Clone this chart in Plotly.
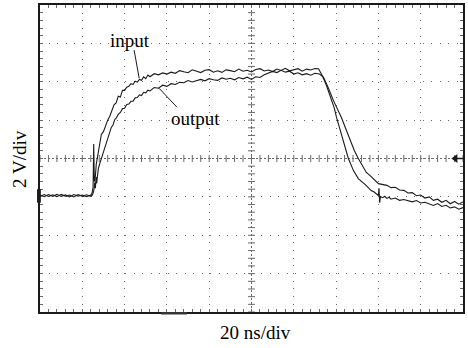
import numpy as np
import plotly.graph_objects as go

# ---------------- data (time in ns, voltage in V) ----------------
input_t = [0, 2, 4, 6, 8, 10, 12, 14, 16, 18, 20, 22, 24,
           24.6, 25.1, 25.4, 25.7, 26.2, 26.6, 27.1, 27.6, 28.0, 29.0, 30.0, 31.0, 32.0, 33.0,
           34.0, 35.0, 36.0, 37.0, 38.0, 39.0, 40.0, 41.0, 42.0, 43.0, 44.0, 45.0, 46.0, 47.0,
           48.0, 49.0, 50.0, 51.0, 52.0, 54.0, 56.0, 58.0, 60.0,
           62, 64, 66, 68, 70, 72, 74, 76, 78, 80, 82, 84, 86, 88, 90, 92, 94, 96, 98, 100,
           102, 104, 106, 108, 110, 112, 114, 116, 118, 120, 122, 124, 126, 128, 130, 131.7,
           133.6, 135.4, 137.3, 139.2, 140.2, 142.0, 143.9, 145.8, 148.2, 150.5, 153.8, 156.6,
           158, 159, 160, 160.3, 160.6, 161, 162, 163, 164, 165, 166, 168, 170, 172, 174, 176,
           178, 180, 182, 184, 186, 188, 190, 192, 194, 196, 198, 200]
input_v = [-1.90, -1.99, -1.88, -1.97, -1.87, -1.98, -1.90, -2.00, -1.88, -1.96, -1.90, -1.99, -1.90,
           -1.80, -1.50, 0.75, -1.20, -0.90, -0.30, 0.00, 0.30, 0.68, 1.25, 1.40, 1.75, 2.00, 2.20,
           2.50, 2.80, 2.90, 3.25, 3.20, 3.55, 3.55, 3.72, 3.76, 3.90, 3.86, 4.03, 3.98, 4.12,
           4.08, 4.26, 4.16, 4.35, 4.26, 4.42, 4.36, 4.46, 4.40,
           4.50, 4.44, 4.58, 4.52, 4.47, 4.62, 4.55, 4.48, 4.60, 4.63, 4.50, 4.57, 4.49, 4.62,
           4.58, 4.52, 4.66, 4.55, 4.60, 4.51, 4.64, 4.68, 4.56, 4.61, 4.53, 4.66, 4.59, 4.70,
           4.57, 4.63, 4.68, 4.55, 4.66, 4.61, 4.69, 4.68,
           4.29, 3.82, 3.19, 2.61, 2.14, 1.46, 0.68, 0.00, -0.63, -1.05, -1.36, -1.67,
           -1.75, -1.85, -1.93, -1.55, -2.30, -1.98, -2.04, -1.97, -2.08, -2.02, -2.12, -2.06,
           -2.18, -2.14, -2.20, -2.26, -2.19, -2.32, -2.28, -2.36, -2.45, -2.35, -2.50, -2.44,
           -2.58, -2.52, -2.64, -2.56]

output_t = [0, 2, 4, 6, 8, 10, 12, 14, 16, 18, 20, 22, 24,
            24.8, 25.4, 25.9, 26.2, 26.5, 26.8, 27.2, 27.6, 28.3, 29.0, 29.7, 30.4, 31.1, 31.8,
            32.7, 33.7, 34.5, 35.3, 36.0, 37.0, 38.0, 39.0, 40.0, 41.0, 42.0, 43.0, 44.0, 45.0,
            46.0, 47.0, 48.0, 49.0, 50.0, 51.0, 52.0, 54.0, 56.0, 58.0, 60.0, 62.0, 64.0, 66.0,
            68.0, 70.0, 72.0, 74.0, 76.0, 78.0, 80.0, 82.0, 84.0, 86.0, 88.0, 90.0, 92.0, 94.0,
            96.0, 98.0, 100.0, 102.0, 104.0, 106.0, 108.0, 110.0, 112.0, 114.0, 116.0, 118.0,
            120.0, 122.0, 124.0, 126.0, 128.0, 130.0, 132.1,
            134.0, 136.4, 138.7, 142.5, 144.9, 146.7, 148.6, 150.5, 152.4, 154.3, 156.6, 160.0,
            164, 166, 168, 170, 172, 174, 176, 178, 180, 182, 184, 186, 188, 190, 192, 194, 196,
            198, 200]
output_v = [-1.97, -1.88, -1.98, -1.89, -1.99, -1.87, -1.96, -1.90, -2.00, -1.88, -1.97, -1.89, -1.97,
            -1.90, -1.70, -1.25, -1.55, -0.95, -1.30, -0.70, -0.52, -0.25, 0.00, 0.25, 0.52, 0.80, 1.05,
            1.30, 1.62, 1.74, 2.02, 2.10, 2.30, 2.40, 2.60, 2.62, 2.82, 2.84, 2.98, 2.98, 3.16,
            3.18, 3.32, 3.28, 3.45, 3.42, 3.56, 3.52, 3.70, 3.66, 3.82, 3.76,
            3.90, 3.86, 3.97, 3.95, 4.06, 3.99, 4.04, 4.12, 4.05, 4.16, 4.10, 4.07, 4.20, 4.13,
            4.18, 4.10, 4.22, 4.15, 4.24, 4.12, 4.26, 4.22, 4.36, 4.46, 4.54, 4.48, 4.60, 4.50,
            4.55, 4.40, 4.47, 4.36, 4.42, 4.34, 4.44, 4.40,
            4.24, 3.66, 3.03, 2.14, 1.46, 0.94, 0.42, 0.00, -0.37, -0.73, -0.94, -1.31,
            -1.40, -1.52, -1.50, -1.64, -1.66, -1.80, -1.78, -1.94, -1.90, -2.06, -2.00, -2.18,
            -2.12, -2.28, -2.18, -2.36, -2.24, -2.38, -2.26]

# screen settings: 10 horizontal divisions of 20 ns, 8 vertical divisions of 2 V
ns_per_div = 20
v_per_div = 2
n_xdiv = 10
n_ydiv = 8
x_label = "20 ns/div"
y_label = "2 V/div"
trace_labels = ["input", "output"]

x_max = ns_per_div * n_xdiv
y_half = v_per_div * n_ydiv / 2
x_mid = x_max / 2

FONT = "Liberation Serif, Times New Roman, serif"
INK = "#1a1a1a"
GRID = "#6a6a6a"

fig = go.Figure()

# centre crosshair tick marks
cx = np.arange(0, x_max + 0.01, ns_per_div / 5)
cy = np.arange(-y_half, y_half + 0.01, v_per_div / 5)
fig.add_trace(go.Scatter(x=cx, y=np.zeros_like(cx), mode="markers",
                         marker=dict(symbol="line-ns", size=5, line=dict(width=1, color=GRID)),
                         hoverinfo="skip", showlegend=False))
fig.add_trace(go.Scatter(x=np.full_like(cy, x_mid), y=cy, mode="markers",
                         marker=dict(symbol="line-ew", size=5, line=dict(width=1, color=GRID)),
                         hoverinfo="skip", showlegend=False))

# traces
fig.add_trace(go.Scatter(x=input_t, y=input_v, mode="lines", name=trace_labels[0],
                         line=dict(color=INK, width=1.1), showlegend=False))
fig.add_trace(go.Scatter(x=output_t, y=output_v, mode="lines", name=trace_labels[1],
                         line=dict(color=INK, width=1.1), showlegend=False))

# ground-reference arrow on right edge
fig.add_trace(go.Scatter(x=[x_max - 3.6], y=[0], mode="markers",
                         marker=dict(symbol="triangle-left", size=8, color=INK),
                         hoverinfo="skip", showlegend=False, cliponaxis=False))

shapes = [
    dict(type="line", xref="x", yref="y", x0=0, x1=x_max, y0=0, y1=0,
         line=dict(color=GRID, width=1, dash="2px,2px"), layer="below"),
    dict(type="line", xref="x", yref="y", x0=x_mid, x1=x_mid, y0=-y_half, y1=y_half,
         line=dict(color=GRID, width=1, dash="2px,2px"), layer="below"),
    dict(type="line", xref="x", yref="y", x0=x_max - 3.6, x1=x_max, y0=0, y1=0,
         line=dict(color=INK, width=1.5)),
    # channel marker on left edge
    dict(type="rect", xref="paper", yref="y", x0=-0.007, x1=0.002, y0=-2.3, y1=-1.6,
         fillcolor=INK, line=dict(width=0)),
    # trigger marker on bottom edge
    dict(type="line", xref="x", yref="paper", x0=57.2, x1=69.5, y0=-0.004, y1=-0.004,
         line=dict(color="#333", width=2.5)),
    # leader lines
    dict(type="line", xref="x", yref="y", x0=44.5, y0=5.65, x1=46.9, y1=4.18,
         line=dict(color=INK, width=1)),
    dict(type="line", xref="x", yref="y", x0=56.3, y0=3.66, x1=64.8, y1=2.67,
         line=dict(color=INK, width=1)),
]

annotations = [
    dict(x=42.6, y=6.17, xref="x", yref="y", text=trace_labels[0], showarrow=False,
         font=dict(family=FONT, size=19, color="#000"), xanchor="center", yanchor="middle"),
    dict(x=73.7, y=2.09, xref="x", yref="y", text=trace_labels[1], showarrow=False,
         font=dict(family=FONT, size=19, color="#000"), xanchor="center", yanchor="middle"),
    dict(x=0.509, y=-0.068, xref="paper", yref="paper", text=x_label, showarrow=False,
         font=dict(family=FONT, size=19, color="#000"), xanchor="center", yanchor="middle"),
    dict(x=-0.05, y=0.498, xref="paper", yref="paper", text=y_label, showarrow=False,
         textangle=-90, font=dict(family=FONT, size=19, color="#000"),
         xanchor="center", yanchor="middle"),
]

fig.update_layout(
    width=468, height=348,
    margin=dict(l=40, r=3, t=5, b=36),
    paper_bgcolor="white", plot_bgcolor="white",
    showlegend=False, hovermode=False,
    shapes=shapes, annotations=annotations,
)
fig.update_xaxes(
    range=[0, x_max], dtick=ns_per_div, tick0=0, showticklabels=False,
    showgrid=True, gridcolor=GRID, gridwidth=1, griddash="1px,6.66px",
    zeroline=False, showline=True, linecolor=INK, linewidth=1.5, mirror="allticks",
    ticks="inside", ticklen=3, tickcolor=GRID,
    minor=dict(dtick=ns_per_div / 5, ticks="inside", ticklen=3, tickcolor=GRID, showgrid=False),
    fixedrange=True,
)
fig.update_yaxes(
    range=[-y_half, y_half], dtick=v_per_div, tick0=0, showticklabels=False,
    showgrid=True, gridcolor=GRID, gridwidth=1, griddash="1px,7.5px",
    zeroline=False, showline=True, linecolor=INK, linewidth=1.5, mirror="allticks",
    ticks="inside", ticklen=3, tickcolor=GRID,
    minor=dict(dtick=v_per_div / 5, ticks="inside", ticklen=3, tickcolor=GRID, showgrid=False),
    fixedrange=True,
)

fig.write_html("out.html")
